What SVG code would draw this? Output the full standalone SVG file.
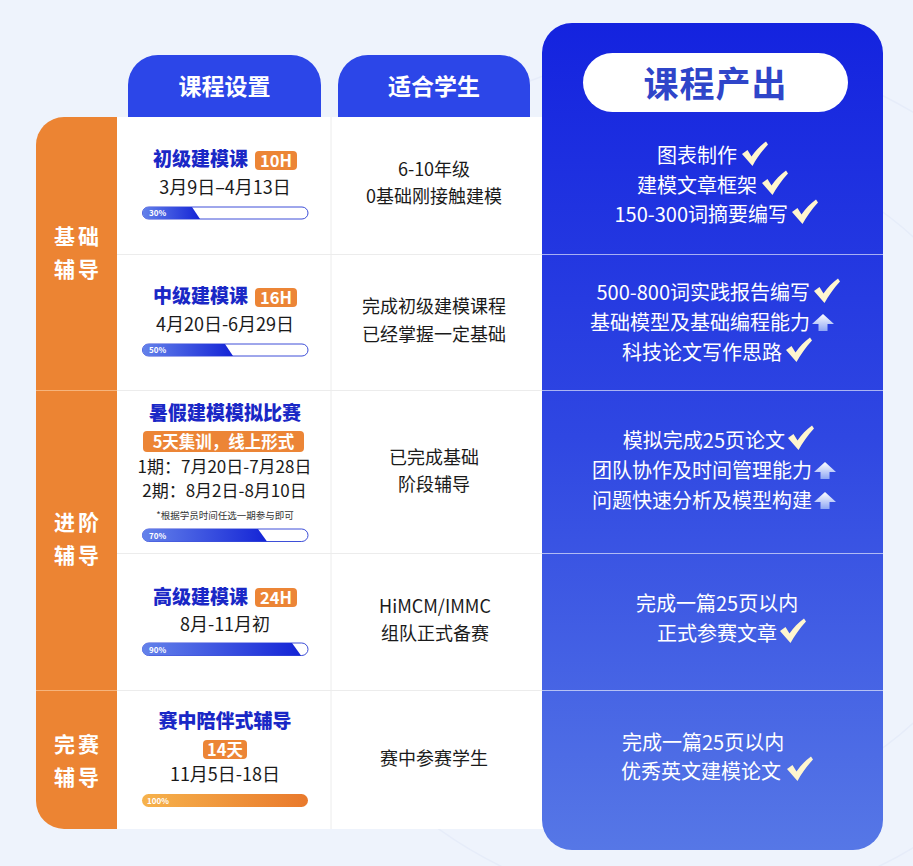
<svg xmlns="http://www.w3.org/2000/svg" xmlns:xlink="http://www.w3.org/1999/xlink" width="913" height="866" viewBox="0 0 913 866">
<defs>
<style>
.ttl{font-family:"Noto Sans CJK SC",sans-serif;font-weight:900;font-size:19px;fill:#1A28C6;}
.dt{font-family:"Noto Sans CJK SC",sans-serif;font-size:18px;fill:#1a1a1a;}
.c2{font-family:"Noto Sans CJK SC",sans-serif;font-size:18px;fill:#1a1a1a;text-anchor:middle;}
.c3{font-family:"Noto Sans CJK SC",sans-serif;font-size:20px;fill:#ffffff;}
.bdg{fill:#EC8536;}
.bdt{font-family:"Noto Sans CJK SC",sans-serif;font-weight:700;font-size:16.5px;fill:#ffffff;text-anchor:middle;}
.lbl{font-family:"Noto Sans CJK SC",sans-serif;font-weight:700;font-size:21px;fill:#ffffff;text-anchor:middle;letter-spacing:3px;}
.hd{font-family:"Noto Sans CJK SC",sans-serif;font-weight:700;font-size:23px;fill:#ffffff;text-anchor:middle;}
.pct{font-family:"Noto Sans CJK SC",sans-serif;font-weight:700;font-size:8px;fill:#ffffff;}
.bar{fill:#ffffff;stroke:#3E4FD8;stroke-width:1;}
.sep{stroke:#ECECEC;stroke-width:1;}
.wsep{stroke:#ffffff;stroke-opacity:0.6;stroke-width:1.2;}
</style>
<linearGradient id="panel" x1="0" y1="0" x2="0" y2="1">
<stop offset="0" stop-color="#1423DF"/>
<stop offset="0.5" stop-color="#2F47E2"/>
<stop offset="1" stop-color="#5677E6"/>
</linearGradient>
<linearGradient id="pbar" x1="0" y1="0" x2="1" y2="0">
<stop offset="0" stop-color="#6482EA"/>
<stop offset="1" stop-color="#1424D6"/>
</linearGradient>
<linearGradient id="obar" x1="0" y1="0" x2="1" y2="0">
<stop offset="0" stop-color="#F6B24C"/>
<stop offset="1" stop-color="#E9792C"/>
</linearGradient>
<linearGradient id="arrg" x1="0" y1="0" x2="0" y2="1">
<stop offset="0" stop-color="#ffffff"/>
<stop offset="1" stop-color="#8EA6F4"/>
</linearGradient>
<path id="chk" d="M0,-10 L5.5,-14 L9.5,-7.5 C13.5,-13.5 18.5,-18.5 24,-22.5 L26,-19.5 C20,-13 14.5,-5.5 10.5,2 Z" fill="#FFF6CF"/>
<path id="arr" d="M11,-16 L22,-6 L15.5,-6 L15.5,1 L6.5,1 L6.5,-6 L0,-6 Z" fill="url(#arrg)"/>
</defs>

<rect x="0" y="0" width="913" height="866" fill="#EEF3FC"/>
<g fill="none" stroke="#E6ECF9" stroke-width="1.5">
<circle cx="690" cy="480" r="430"/>
<circle cx="690" cy="480" r="330"/>
</g>

<!-- table body -->
<g id="table">
<rect x="117" y="117" width="430" height="712" fill="#ffffff"/>
<line class="sep" x1="331" y1="117" x2="331" y2="829"/>
<line class="sep" x1="117" y1="254.5" x2="542" y2="254.5"/>
<line class="sep" x1="117" y1="390.5" x2="542" y2="390.5"/>
<line class="sep" x1="117" y1="553.5" x2="542" y2="553.5"/>
<line class="sep" x1="117" y1="690.5" x2="542" y2="690.5"/>
</g>

<!-- header tabs -->
<g id="hdr-course">
<path d="M128,117 V85 A30,30 0 0 1 158,55 H291 A30,30 0 0 1 321,85 V117 Z" fill="#2C46E8"/>
<text class="hd" x="224.5" y="95">课程设置</text>
</g>
<g id="hdr-student">
<path d="M338,117 V85 A30,30 0 0 1 368,55 H500 A30,30 0 0 1 530,85 V117 Z" fill="#2C46E8"/>
<text class="hd" x="434" y="95">适合学生</text>
</g>

<!-- left stage column -->
<g id="stages">
<path d="M117,117 V829 H64 A28,28 0 0 1 36,801 V145 A28,28 0 0 1 64,117 Z" fill="#EC8433"/>
<line x1="36" y1="390.5" x2="117" y2="390.5" stroke="#F6B47C" stroke-width="1"/>
<line x1="36" y1="690.5" x2="117" y2="690.5" stroke="#F6B47C" stroke-width="1"/>
</g>
<g id="stage-basic"><text class="lbl" x="78" y="244">基础</text><text class="lbl" x="78" y="277">辅导</text></g>
<g id="stage-adv"><text class="lbl" x="78" y="530">进阶</text><text class="lbl" x="78" y="563">辅导</text></g>
<g id="stage-comp"><text class="lbl" x="78" y="752">完赛</text><text class="lbl" x="78" y="785">辅导</text></g>

<!-- right panel -->
<g id="panel-out">
<rect x="542" y="23" width="341" height="827" rx="30" fill="url(#panel)"/>
<rect x="583" y="53" width="265" height="59" rx="29.5" fill="#ffffff"/>
<text x="715.5" y="97" text-anchor="middle" style="font-family:'Noto Sans CJK SC',sans-serif;font-weight:700;font-size:35px;fill:#2F45C9;letter-spacing:1px">课程产出</text>
<line class="wsep" x1="542" y1="254.5" x2="883" y2="254.5"/>
<line class="wsep" x1="542" y1="390.5" x2="883" y2="390.5"/>
<line class="wsep" x1="542" y1="553.5" x2="883" y2="553.5"/>
<line class="wsep" x1="542" y1="690.5" x2="883" y2="690.5"/>
</g>

<!-- Row 1 -->
<g id="r1-course">
<text class="ttl" x="153" y="166">初级建模课</text>
<rect class="bdg" x="255" y="151" width="42" height="19" rx="4"/>
<text class="bdt" x="276" y="166.5">10H</text>
<text class="dt" x="225" y="194" text-anchor="middle">3月9日–4月13日</text>
<rect class="bar" x="142.5" y="207" width="165.5" height="12" rx="6"/>
<path d="M148.5,207 H192 L200,219 H148.5 A6,6 0 0 1 148.5,207 Z" fill="url(#pbar)"/>
<text class="pct" x="149" y="216">30%</text>
</g>
<g id="r1-student">
<text class="c2" x="434" y="176">6-10年级</text>
<text class="c2" x="434" y="203">0基础刚接触建模</text>
</g>
<g id="r1-out">
<text class="c3" x="737" y="163" text-anchor="end">图表制作</text>
<use href="#chk" x="742" y="164"/>
<text class="c3" x="757" y="193" text-anchor="end">建模文章框架</text>
<use href="#chk" x="762" y="193"/>
<text class="c3" x="788" y="222" text-anchor="end">150-300词摘要编写</text>
<use href="#chk" x="792" y="222"/>
</g>

<!-- Row 2 -->
<g id="r2-course">
<text class="ttl" x="153" y="303">中级建模课</text>
<rect class="bdg" x="255" y="288" width="42" height="19" rx="4"/>
<text class="bdt" x="276" y="303.5">16H</text>
<text class="dt" x="225" y="331" text-anchor="middle">4月20日-6月29日</text>
<rect class="bar" x="142.5" y="344" width="165.5" height="12" rx="6"/>
<path d="M148.5,344 H225 L233,356 H148.5 A6,6 0 0 1 148.5,344 Z" fill="url(#pbar)"/>
<text class="pct" x="149" y="353">50%</text>
</g>
<g id="r2-student">
<text class="c2" x="434" y="313">完成初级建模课程</text>
<text class="c2" x="434" y="341">已经掌握一定基础</text>
</g>
<g id="r2-out">
<text class="c3" x="810" y="300" text-anchor="end">500-800词实践报告编写</text>
<use href="#chk" x="814" y="301"/>
<text class="c3" x="810" y="330" text-anchor="end">基础模型及基础编程能力</text>
<use href="#arr" x="812" y="330"/>
<text class="c3" x="782" y="360" text-anchor="end">科技论文写作思路</text>
<use href="#chk" x="786" y="360"/>
</g>

<!-- Row 3 -->
<g id="r3-course">
<text class="ttl" x="225" y="420" text-anchor="middle">暑假建模模拟比赛</text>
<rect class="bdg" x="143" y="431" width="161" height="21" rx="4"/>
<text class="bdt" x="223.5" y="447.5">5天集训，线上形式</text>
<text class="dt" x="224.5" y="473" text-anchor="middle" style="font-size:17px">1期：7月20日-7月28日</text>
<text class="dt" x="224.5" y="497" text-anchor="middle" style="font-size:17px">2期：8月2日-8月10日</text>
<text x="225" y="519" text-anchor="middle" style="font-family:'Noto Sans CJK SC',sans-serif;font-size:9.5px;fill:#333333">*根据学员时间任选一期参与即可</text>
<rect class="bar" x="142.5" y="529" width="165.5" height="12.5" rx="6.25"/>
<path d="M148.5,529 H258 L267,541.5 H148.5 A6.25,6.25 0 0 1 148.5,529 Z" fill="url(#pbar)"/>
<text class="pct" x="149" y="538.5">70%</text>
</g>
<g id="r3-student">
<text class="c2" x="434" y="464">已完成基础</text>
<text class="c2" x="434" y="491">阶段辅导</text>
</g>
<g id="r3-out">
<text class="c3" x="785" y="448" text-anchor="end">模拟完成25页论文</text>
<use href="#chk" x="788" y="448"/>
<text class="c3" x="812" y="478" text-anchor="end">团队协作及时间管理能力</text>
<use href="#arr" x="814" y="478"/>
<text class="c3" x="812" y="508" text-anchor="end">问题快速分析及模型构建</text>
<use href="#arr" x="814" y="508"/>
</g>

<!-- Row 4 -->
<g id="r4-course">
<text class="ttl" x="153" y="604">高级建模课</text>
<rect class="bdg" x="255" y="588" width="42" height="19" rx="4"/>
<text class="bdt" x="276" y="603.5">24H</text>
<text class="dt" x="225" y="631" text-anchor="middle">8月-11月初</text>
<rect class="bar" x="142.5" y="643" width="165.5" height="12.5" rx="6.25"/>
<path d="M148.5,643 H292 L301,655.5 H148.5 A6.25,6.25 0 0 1 148.5,643 Z" fill="url(#pbar)"/>
<text class="pct" x="149" y="652.5">90%</text>
</g>
<g id="r4-student">
<text class="c2" x="435" y="613">HiMCM/IMMC</text>
<text class="c2" x="435" y="640">组队正式备赛</text>
</g>
<g id="r4-out">
<text class="c3" x="636" y="611">完成一篇25页以内</text>
<text class="c3" x="777" y="641" text-anchor="end">正式参赛文章</text>
<use href="#chk" x="780" y="641"/>
</g>

<!-- Row 5 -->
<g id="r5-course">
<text class="ttl" x="225" y="728" text-anchor="middle">赛中陪伴式辅导</text>
<rect class="bdg" x="203" y="740" width="44" height="19" rx="4"/>
<text class="bdt" x="225" y="755.5">14天</text>
<text class="dt" x="225" y="781" text-anchor="middle">11月5日-18日</text>
<rect x="142" y="794" width="166" height="13" rx="6.5" fill="url(#obar)"/>
<text class="pct" x="147" y="803.5">100%</text>
</g>
<g id="r5-student">
<text class="c2" x="434" y="765">赛中参赛学生</text>
</g>
<g id="r5-out">
<text class="c3" x="622" y="750">完成一篇25页以内</text>
<text class="c3" x="781" y="779" text-anchor="end">优秀英文建模论文</text>
<use href="#chk" x="787" y="779"/>
</g>
</svg>
